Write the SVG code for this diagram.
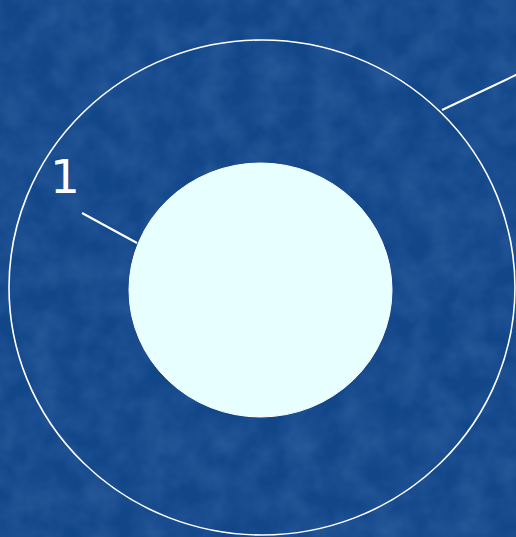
<svg xmlns="http://www.w3.org/2000/svg" width="516" height="537" viewBox="0 0 516 537">
  <style>
    .ln { stroke: #ffffff; stroke-width: 2; fill: none; }
    .lbl { font-family: "DejaVu Sans", Verdana, sans-serif; font-size: 47px; fill: #ffffff; }
  </style>
  <defs>
    <filter id="tex" x="0" y="0" width="100%" height="100%">
      <feTurbulence type="fractalNoise" baseFrequency="0.035" numOctaves="3" seed="4" result="n"/>
      <feColorMatrix type="matrix" values="0 0 0 0 0.3  0 0 0 0 0.5  0 0 0 0 0.85  0 0 0 0.25 -0.07"/>
    </filter>
  </defs>
  <rect id="background" x="0" y="0" width="516" height="537" fill="#114689"/>
  <rect x="0" y="0" width="516" height="537" filter="url(#tex)"/>
  <g id="outer-circle">
    <ellipse cx="262" cy="287.5" rx="253" ry="247.5" fill="none" stroke="#ffffff" stroke-width="1.6"/>
  </g>
  <g id="inner-circle">
    <ellipse cx="260.5" cy="290" rx="131.5" ry="127" fill="#e8ffff" stroke="#ffffff" stroke-width="1"/>
  </g>
  <g id="connectors">
    <line class="ln" x1="82" y1="213" x2="137" y2="243"/>
    <line class="ln" x1="442" y1="110" x2="518" y2="74"/>
  </g>
  <g id="label-1">
    <text class="lbl" x="65" y="193" text-anchor="middle">1</text>
  </g>
</svg>
